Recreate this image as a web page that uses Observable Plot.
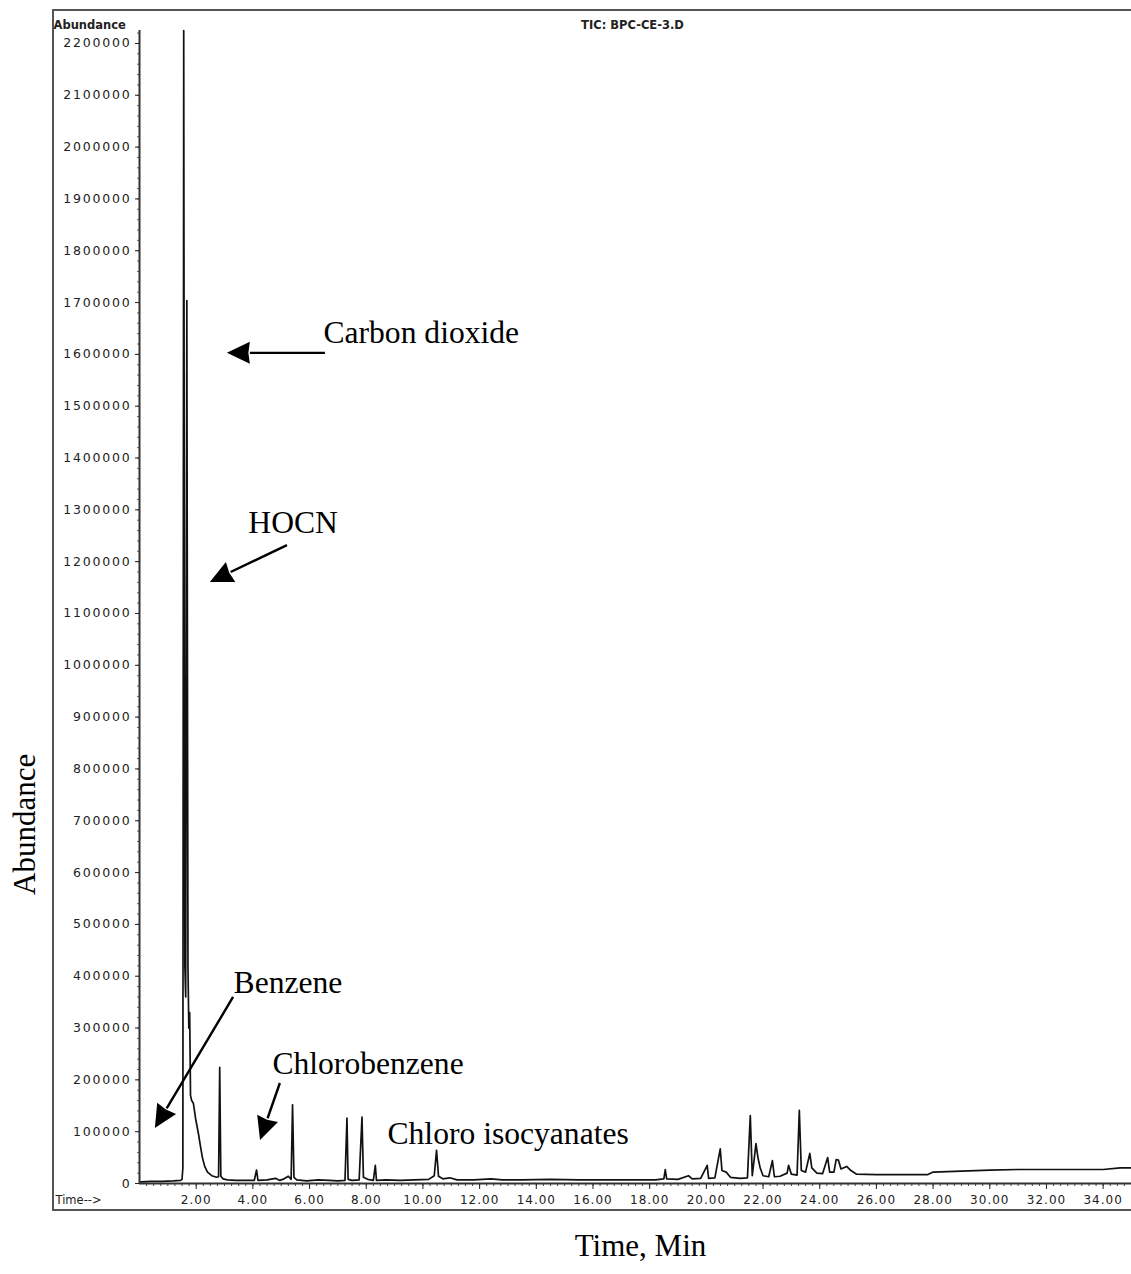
<!DOCTYPE html>
<html><head><meta charset="utf-8">
<script src="https://cdn.jsdelivr.net/npm/d3@7"></script>
<script src="https://cdn.jsdelivr.net/npm/@observablehq/plot@0.6"></script>
<style>
html,body{margin:0;padding:0;background:#fff;}
#wrap{position:relative;width:1131px;height:1274px;overflow:hidden;}
#frame{position:absolute;left:52px;top:9px;width:1200px;height:1202px;border:2px solid #555;box-sizing:border-box;pointer-events:none;}
g[aria-label="y-axis tick label"] text{letter-spacing:1.8px;}
g[aria-label="x-axis tick label"] text{letter-spacing:1px;}
g[aria-label="header"] text{letter-spacing:1.4px;}
</style></head><body><div id="wrap"></div>
<script>
// Chromatogram trace (retention time in min, abundance)
const times = [0.05,0.4,0.8,1.2,1.45,1.50,1.53,1.56,1.60,1.63,1.67,1.71,1.74,1.77,1.80,1.84,1.90,1.98,2.08,2.15,2.22,2.30,2.40,2.55,2.72,2.79,2.83,2.87,2.95,3.1,3.4,3.7,4.05,4.13,4.18,4.5,4.8,4.95,5.1,5.25,5.35,5.40,5.45,5.55,5.9,6.3,6.7,7.0,7.25,7.32,7.36,7.5,7.75,7.85,7.9,8.05,8.25,8.32,8.36,8.7,9.2,9.7,10.2,10.40,10.48,10.55,10.7,10.95,11.2,11.8,12.4,12.8,13.5,14.5,15.5,16.5,17.5,18.2,18.50,18.55,18.60,19.0,19.37,19.5,19.8,20.03,20.08,20.3,20.49,20.55,20.7,20.85,21.2,21.45,21.55,21.62,21.75,21.82,21.9,22.0,22.2,22.33,22.40,22.6,22.85,22.9,23.0,23.2,23.28,23.35,23.5,23.65,23.72,23.9,24.1,24.28,24.35,24.5,24.58,24.66,24.75,24.95,25.1,25.3,26.0,27.0,27.8,28.0,29.0,30.0,31.0,32.0,33.0,34.0,34.6,35.0];
const abundances = [3000,4000,4000,5000,6000,8000,30000,2225000,420000,360000,1704000,420000,300000,330000,170000,160000,155000,125000,96000,72000,50000,33000,22000,15000,12000,13000,224000,14000,9000,7000,6000,6000,6000,26000,6000,7000,10000,6000,9000,14000,8000,152000,12000,7000,5000,7000,6000,5000,6000,126000,8000,6000,7000,128000,12000,8000,6000,35000,6000,7000,6000,7000,8000,15000,64000,14000,9000,11000,7000,7000,9000,7000,7000,8000,7000,7000,7000,7000,9000,27000,9000,8000,15000,9000,10000,35000,10000,11000,67000,25000,22000,12000,10000,11000,131000,15000,77000,50000,30000,15000,13000,44000,13000,14000,20000,35000,18000,16000,141000,25000,22000,58000,30000,20000,19000,50000,22000,22000,46000,45000,28000,33000,25000,18000,17000,17000,17000,22000,24000,26000,27000,27000,27000,27000,30000,30000];

// Axis ticks
const yTicks = [0,100000,200000,300000,400000,500000,600000,700000,800000,900000,1000000,1100000,1200000,1300000,1400000,1500000,1600000,1700000,1800000,1900000,2000000,2100000,2200000];
const xTicks = [2,4,6,8,10,12,14,16,18,20,22,24,26,28,30,32,34];

// Annotations
const labelNames = ["Carbon dioxide","HOCN","Benzene","Chlorobenzene","Chloro isocyanates"];
const labelTime  = [6.49, 3.84, 3.32, 4.69, 8.75];
const labelAbund = [1642000, 1274000, 388000, 230000, 96500];
const arrowFromTime  = [6.56, 5.22, 3.32, 4.97];
const arrowFromAbund = [1602000, 1231000, 359000, 193000];
const arrowToTime    = [3.10, 2.50, 0.56, 4.27];
const arrowToAbund   = [1602000, 1160000, 106000, 83000];

const trace = times.map((t,i)=>({t, a: abundances[i]}));
const notes = labelNames.map((name,i)=>({name, t: labelTime[i], a: labelAbund[i]}));
const xMinor = d3.range(0.25, 35, 0.25);
const yMinor = d3.range(0, 2225000, 20000);

function arrowsMark(index, scales) {
  const g = d3.create("svg:g").attr("aria-label","arrows");
  for (let i = 0; i < arrowFromTime.length; i++) {
    const x1 = scales.x(arrowFromTime[i]), y1 = scales.y(arrowFromAbund[i]);
    const x2 = scales.x(arrowToTime[i]), y2 = scales.y(arrowToAbund[i]);
    const ang = Math.atan2(y2 - y1, x2 - x1);
    const L = 23, W = 11;
    const bx = x2 - L*Math.cos(ang), by = y2 - L*Math.sin(ang);
    g.append("line").attr("x1",x1).attr("y1",y1).attr("x2",bx).attr("y2",by)
      .attr("stroke","#000").attr("stroke-width",2.4);
    const px = -Math.sin(ang)*W, py = Math.cos(ang)*W;
    const cx = x2 - (L-1.5)*Math.cos(ang), cy = y2 - (L-1.5)*Math.sin(ang);
    g.append("path").attr("d",`M${x2},${y2}L${bx+px},${by+py}L${cx},${cy}L${bx-px},${by-py}Z`).attr("fill","#000");
  }
  return g.node();
}

const chart = Plot.plot({
  width: 1131,
  height: 1274,
  marginLeft: 139,
  marginRight: 0,
  marginTop: 30,
  marginBottom: 91,
  style: {fontFamily: "DejaVu Sans", fontSize: "12.5px", background: "transparent", color: "#222"},
  x: {domain: [0, 35]},
  y: {domain: [0, 2225000]},
  marks: [
    Plot.axisY(yMinor, {tickSize: 2, tickFormat: () => "", label: null, stroke: "#666"}),
    Plot.axisY(yTicks, {tickSize: 4, tickPadding: 4, tickFormat: d3.format("d"), label: null, fill: "#222"}),
    Plot.axisX(xMinor, {tickSize: 3, tickFormat: () => "", label: null, stroke: "#444"}),
    Plot.axisX(xTicks, {tickSize: 6, tickPadding: 6, tickFormat: d3.format(".2f"), label: null, fill: "#222", fontSize: 12}),
    Plot.ruleX([0], {stroke: "#333", strokeWidth: 2}),
    Plot.ruleY([0], {stroke: "#333", strokeWidth: 2}),
    Plot.line(trace, {x: "t", y: "a", stroke: "#111", strokeWidth: 1.7, strokeLinejoin: "round"}),
    Plot.text(notes, {x: "t", y: "a", text: "name", textAnchor: "start", fontFamily: "Liberation Serif", fontSize: 31.6, fill: "#000"}),
    arrowsMark,
    Plot.text(["Abundance"], {frameAnchor: "left", dx: -114, dy: 288, rotate: -90, fontFamily: "Liberation Serif", fontSize: 31, fill: "#000"}),
    Plot.text(["Time, Min"], {frameAnchor: "bottom", dx: 5, dy: 72, fontFamily: "Liberation Serif", fontSize: 31, fill: "#000"}),
    Plot.text(["Abundance"], {frameAnchor: "top-left", dx: -86, dy: -10, textAnchor: "start", fontSize: 11.5, fontWeight: "bold", fill: "#222", ariaLabel: "header"}),
    Plot.text(["TIC: BPC-CE-3.D"], {frameAnchor: "top", dx: -3, dy: -10, fontSize: 11.5, fontWeight: "bold", fill: "#222", ariaLabel: "header"}),
    Plot.text(["Time-->"], {frameAnchor: "bottom-left", dx: -84, dy: 20, textAnchor: "start", fontSize: 11.5, fill: "#222", ariaLabel: "header"})
  ]
});
const wrap = document.getElementById("wrap");
wrap.appendChild(chart);
const frame = document.createElement("div");
frame.id = "frame";
wrap.appendChild(frame);
</script>
</body></html>
